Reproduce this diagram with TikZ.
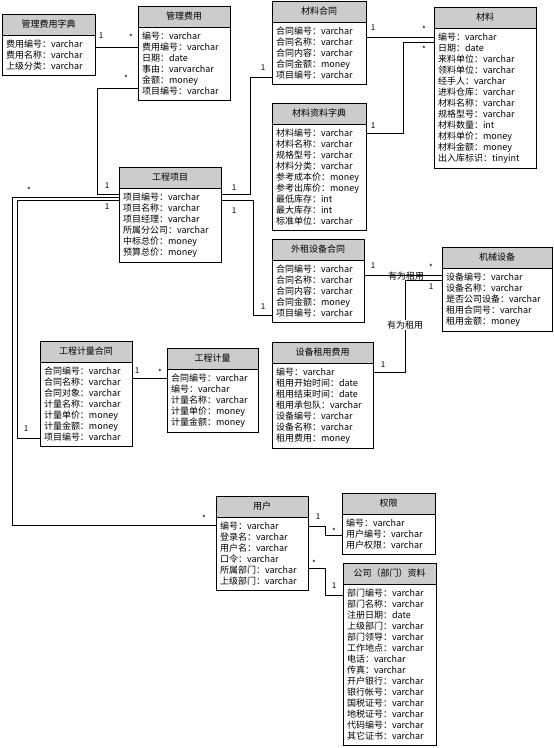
\documentclass[tikz,border=0pt]{standalone}
\usepackage{fontspec}
\newfontfamily\cjk{Noto Sans CJK SC}
\usetikzlibrary{positioning}

\begin{document}
\begin{tikzpicture}[x=1pt,y=-1pt,
  tbl/.style={draw,line width=0.8pt,fill=black!20,anchor=north west,minimum height=21pt,inner sep=0pt,outer sep=0pt,font=\cjk\fontsize{9}{11}\selectfont},
  fld/.style={draw,line width=0.8pt,fill=white,anchor=north west,align=left,inner xsep=4pt,inner ysep=5pt,outer sep=0pt,font=\cjk\fontsize{9}{11}\selectfont},
  mult/.style={font=\cjk\fontsize{8}{9}\selectfont,inner sep=0pt},
  rel/.style={line width=0.8pt}]
\useasboundingbox (0,0) rectangle (554,748);
% tables
\node[tbl,minimum width=93] (glzd-t) at (2,14) {管理费用字典};
\node[fld,text width=85] (glzd) at (glzd-t.south west) {费用编号：varchar\\费用名称：varchar\\上级分类：varchar};
\node[tbl,minimum width=92] (glfy-t) at (138,6) {管理费用};
\node[fld,text width=84] (glfy) at (glfy-t.south west) {编号：varchar\\费用编号：varchar\\日期：date\\事由：varvarchar\\金额：money\\项目编号：varchar};
\node[tbl,minimum width=94] (clht-t) at (272,1) {材料合同};
\node[fld,text width=86] (clht) at (clht-t.south west) {合同编号：varchar\\合同名称：varchar\\合同内容：varchar\\合同金额：money\\项目编号：varchar};
\node[tbl,minimum width=102] (cl-t) at (434,7) {材料};
\node[fld,text width=94] (cl) at (cl-t.south west) {编号：varchar\\日期：date\\来料单位：varchar\\领料单位：varchar\\经手人：varchar\\进料仓库：varchar\\材料名称：varchar\\规格型号：varchar\\材料数量：int\\材料单价：money\\材料金额：money\\出入库标识：tinyint};
\node[tbl,minimum width=94] (clzd-t) at (272,103) {材料资料字典};
\node[fld,text width=86] (clzd) at (clzd-t.south west) {材料编号：varchar\\材料名称：varchar\\规格型号：varchar\\材料分类：varchar\\参考成本价：money\\参考出库价：money\\最低库存：int\\最大库存：int\\标准单位：varchar};
\node[tbl,minimum width=102] (gcxm-t) at (119,167) {工程项目};
\node[fld,text width=94] (gcxm) at (gcxm-t.south west) {项目编号：varchar\\项目名称：varchar\\项目经理：varchar\\所属分公司：varchar\\中标总价：money\\预算总价：money};
\node[tbl,minimum width=92] (wzht-t) at (272,239) {外租设备合同};
\node[fld,text width=84] (wzht) at (wzht-t.south west) {合同编号：varchar\\合同名称：varchar\\合同内容：varchar\\合同金额：money\\项目编号：varchar};
\node[tbl,minimum width=110] (jxsb-t) at (442,247) {机械设备};
\node[fld,text width=102] (jxsb) at (jxsb-t.south west) {设备编号：varchar\\设备名称：varchar\\是否公司设备：varchar\\租用合同号：varchar\\租用金额：money};
\node[tbl,minimum width=101] (zyfy-t) at (272,342) {设备租用费用};
\node[fld,text width=93] (zyfy) at (zyfy-t.south west) {编号：varchar\\租用开始时间：date\\租用结束时间：date\\租用承包队：varchar\\设备编号：varchar\\设备名称：varchar\\租用费用：money};
\node[tbl,minimum width=92] (jlht-t) at (40,341) {工程计量合同};
\node[fld,text width=84] (jlht) at (jlht-t.south west) {合同编号：varchar\\合同名称：varchar\\合同对象：varchar\\计量名称：varchar\\计量单价：money\\计量金额：money\\项目编号：varchar};
\node[tbl,minimum width=91] (gcjl-t) at (167,348) {工程计量};
\node[fld,text width=83] (gcjl) at (gcjl-t.south west) {合同编号：varchar\\编号：varchar\\计量名称：varchar\\计量单价：money\\计量金额：money};
\node[tbl,minimum width=92] (yh-t) at (216,496) {用户};
\node[fld,text width=84] (yh) at (yh-t.south west) {编号：varchar\\登录名：varchar\\用户名：varchar\\口令：varchar\\所属部门：varchar\\上级部门：varchar};
\node[tbl,minimum width=93] (qx-t) at (342,493) {权限};
\node[fld,text width=85] (qx) at (qx-t.south west) {编号：varchar\\用户编号：varchar\\用户权限：varchar};
\node[tbl,minimum width=93] (gs-t) at (343,563) {公司（部门）资料};
\node[fld,text width=85] (gs) at (gs-t.south west) {部门编号：varchar\\部门名称：varchar\\注册日期：date\\上级部门：varchar\\部门领导：varchar\\工作地点：varchar\\电话：varchar\\传真：varchar\\开户银行：varchar\\银行帐号：varchar\\国税证号：varchar\\地税证号：varchar\\代码编号：varchar\\其它证书：varchar};
% relations
\draw[rel] ([yshift=-12]glzd.north east) -- ([yshift=-20]glfy.north west);
\draw[rel] ([yshift=-61]glfy.north west) -- ++(-41,0) |- ([yshift=-6]gcxm.north west);
\draw[rel] ([yshift=-6]gcxm.north east) -- ++(29,0) |- ([yshift=-55]clht.north west);
\draw[rel] ([yshift=-12]gcxm.north east) -- ++(32,0) |- ([yshift=-55]wzht.north west);
\draw[rel] ([yshift=-15]clht.north east) -- ([yshift=-9]cl.north west);
\draw[rel] ([yshift=-9]clzd.north east) -- ++(37,0) |- ([yshift=-14]cl.north west);
\draw[rel] ([yshift=-15]wzht.north east) -- ([yshift=-7]jxsb.north west);
\draw[rel] ([yshift=-9]zyfy.north east) -- ++(32,0) |- ([yshift=-12]jxsb.north west);
\draw[rel] ([yshift=-9]gcxm.north west) -- ++(-107,0) |- ([yshift=-8]yh.north west);
\draw[rel] ([yshift=-12]gcxm.north west) -- ++(-102,0) |- ([yshift=-76]jlht.north west);
\draw[rel] ([yshift=-16]jlht.north east) -- ([yshift=-9]gcjl.north west);
\draw[rel] ([yshift=-9]yh.north east) -- ++(17,0) |- ([yshift=-21]qx.north west);
\draw[rel] ([yshift=-51]yh.north east) -- ++(17,0) |- ([yshift=-11]gs.north west);
% relation names
\node[font=\cjk\fontsize{9}{11}\selectfont,inner sep=0pt] (zy1) at (406,276) {有为租用};
\node[font=\cjk\fontsize{9}{11}\selectfont,fill=white,inner sep=1pt] (zy2) at (405,325) {有为租用};
% multiplicities
\node[mult] (m1) at (101,36) {1};
\node[mult] (m2) at (131,37) {*};
\node[mult] (m3) at (126,78) {*};
\node[mult] (m4) at (107,186) {1};
\node[mult] (m5) at (234,188) {1};
\node[mult] (m6) at (263,68) {1};
\node[mult] (m7) at (234,211) {1};
\node[mult] (m8) at (263,307) {1};
\node[mult] (m9) at (373,28) {1};
\node[mult] (m10) at (424,29) {*};
\node[mult] (m11) at (373,126) {1};
\node[mult] (m12) at (424,49) {*};
\node[mult] (m13) at (373,266) {1};
\node[mult] (m14) at (431,267) {*};
\node[mult] (m15) at (383,365) {1};
\node[mult] (m16) at (431,287) {1};
\node[mult] (m17) at (29,190) {*};
\node[mult] (m18) at (204,518) {*};
\node[mult] (m19) at (107,207) {1};
\node[mult] (m20) at (26,429) {1};
\node[mult] (m21) at (137,371) {1};
\node[mult] (m22) at (160,372) {*};
\node[mult] (m23) at (318,517) {1};
\node[mult] (m24) at (334,531) {*};
\node[mult] (m25) at (314,563) {*};
\node[mult] (m26) at (334,586) {1};
\end{tikzpicture}
\end{document}
